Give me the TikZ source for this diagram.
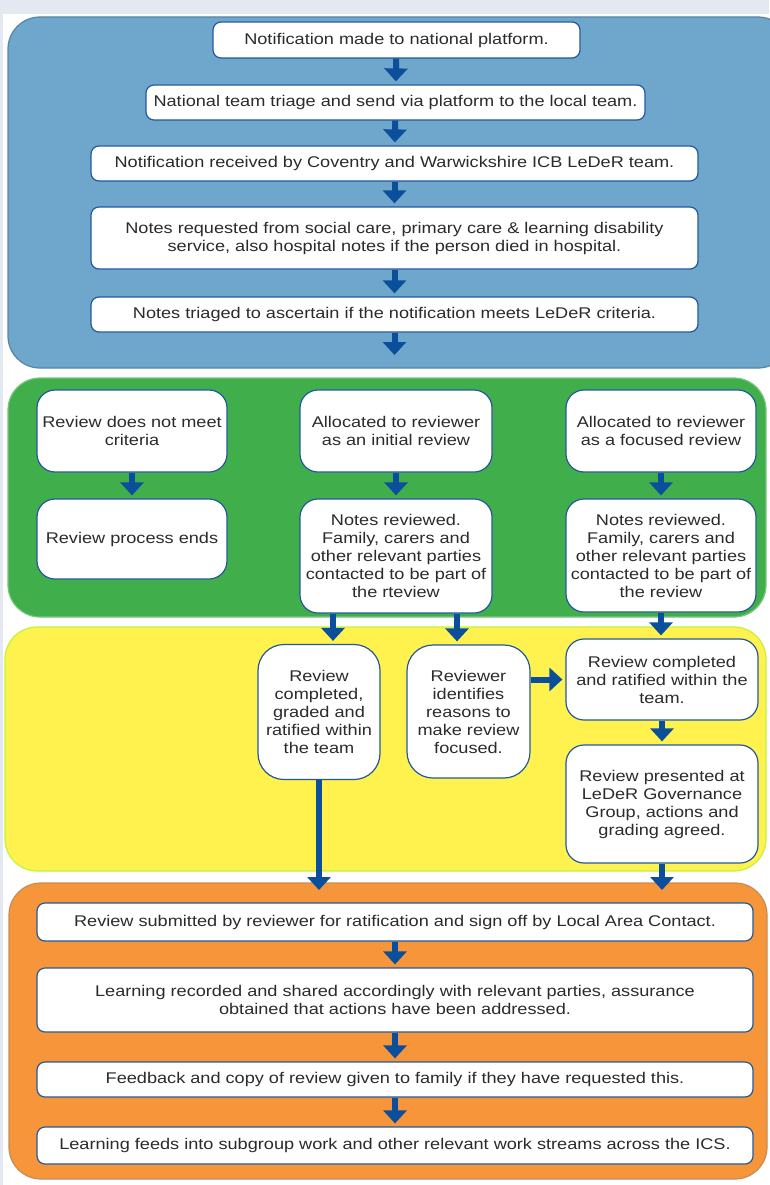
\documentclass[tikz,border=0pt]{standalone}
\usepackage{fontspec}
\setmainfont{Liberation Sans}[FakeStretch=1.17]
\usetikzlibrary{arrows.meta}

\definecolor{pageband}{HTML}{E4E8F1}
\definecolor{bluepanel}{HTML}{6EA6CC}
\definecolor{greenpanel}{HTML}{40AE4A}
\definecolor{yellowpanel}{HTML}{FFF24F}
\definecolor{orangepanel}{HTML}{F7953A}
\definecolor{edgeblue}{HTML}{23599C}
\definecolor{arrowblue}{HTML}{0B4F9C}
\definecolor{inkgray}{HTML}{2B2B2B}

\begin{document}
\begin{tikzpicture}[x=1pt, y=1pt,
        panel/.style={line width=1.2pt, rounded corners=32pt},
        box/.style={draw=edgeblue, fill=white, line width=1.2pt, rounded corners=8pt,
          align=center, inner sep=0pt, text=inkgray, font=\fontsize{15.5}{18}\selectfont},
        roundbox/.style={box, rounded corners=18pt},
        pillbox/.style={box, rounded corners=26pt},
        flow/.style={draw=arrowblue, line width=6pt,
          -{Triangle[width=23pt,length=13pt]}, shorten >=3pt}]
        \useasboundingbox (0,0) rectangle (769,-1185);
        \fill[white] (0,0) rectangle (769,-1185);
        \fill[pageband] (0,0) rectangle (769,-14);
        \fill[pageband] (0,0) rectangle (3,-1185);

        % coloured bands
        \filldraw[panel, fill=bluepanel, draw=bluepanel!80!black] (8,-17) rectangle (790,-368);
        \filldraw[panel, fill=greenpanel, draw=greenpanel!70!white] (8,-378) rectangle (766,-617);
        \filldraw[panel, fill=yellowpanel, draw=yellowpanel!75!green] (5,-627) rectangle (766,-871);
        \filldraw[panel, fill=orangepanel, draw=orangepanel!60!gray] (9,-883) rectangle (767,-1179);

        % notification stage
        \node[box, minimum width=367pt, minimum height=36pt] at (396.5,-40) (notify) {Notification made to national platform.};
        \node[box, minimum width=499pt, minimum height=35pt] at (395.5,-102.5) (national) {National team triage and send via platform to the local team.};
        \node[box, minimum width=607pt, minimum height=35pt] at (394.5,-163.5) (received) {Notification received by Coventry and Warwickshire ICB LeDeR team.};
        \node[box, minimum width=607pt, minimum height=62pt] at (394.5,-238) (notes) {Notes requested from social care, primary care \& learning disability\\service, also hospital notes if the person died in hospital.};
        \node[box, minimum width=607pt, minimum height=35pt] at (394.5,-314.5) (triaged) {Notes triaged to ascertain if the notification meets LeDeR criteria.};
        \coordinate (triageout) at (394.5,-358);

        % allocation stage
        \node[roundbox, minimum width=190pt, minimum height=82pt] at (132,-431) (notmet) {Review does not meet\\criteria};
        \node[roundbox, minimum width=190pt, minimum height=80pt] at (132,-539) (ends) {Review process ends};
        \node[roundbox, minimum width=192pt, minimum height=82pt] at (396,-431) (initial) {Allocated to reviewer\\as an initial review};
        \node[roundbox, minimum width=192pt, minimum height=114pt] at (396,-556) (initnotes) {Notes reviewed.\\Family, carers and\\other relevant parties\\contacted to be part of\\the rteview};
        \node[roundbox, minimum width=190pt, minimum height=82pt] at (661,-431) (focused) {Allocated to reviewer\\as a focused review};
        \node[roundbox, minimum width=190pt, minimum height=113pt] at (661,-555.5) (focnotes) {Notes reviewed.\\Family, carers and\\other relevant parties\\contacted to be part of\\the review};

        % review stage
        \node[pillbox, minimum width=122pt, minimum height=135pt] at (319,-712) (graded) {Review\\completed,\\graded and\\ratified within\\the team};
        \node[pillbox, minimum width=123pt, minimum height=133pt] at (468.5,-711.5) (reasons) {Reviewer\\identifies\\reasons to\\make review\\focused.};
        \node[roundbox, minimum width=192pt, minimum height=81pt] at (662,-679.5) (ratified) {Review completed\\and ratified within the\\team.};
        \node[roundbox, minimum width=192pt, minimum height=118pt] at (662,-804) (governance) {Review presented at\\LeDeR Governance\\Group, actions and\\grading agreed.};
        \coordinate (gradedout) at (319,-890);
        \coordinate (govout) at (662,-890);

        % learning stage
        \node[box, minimum width=716pt, minimum height=38pt] at (395,-922) (submitted) {Review submitted by reviewer for ratification and sign off by Local Area Contact.};
        \node[box, minimum width=716pt, minimum height=64pt] at (395,-1000) (learning) {Learning recorded and shared accordingly with relevant parties, assurance\\obtained that actions have been addressed.};
        \node[box, minimum width=716pt, minimum height=35pt] at (395,-1079.5) (feedback) {Feedback and copy of review given to family if they have requested this.};
        \node[box, minimum width=716pt, minimum height=37pt] at (395,-1145.5) (feeds) {Learning feeds into subgroup work and other relevant work streams across the ICS.};

        \draw[flow] (notify) -- (national);
        \draw[flow] (national) -- (received);
        \draw[flow] (received) -- (notes);
        \draw[flow] (notes) -- (triaged);
        \draw[flow] (triaged) -- (triageout);

        \draw[flow] (notmet) -- (ends);
        \draw[flow] (initial) -- (initnotes);
        \draw[flow] (focused) -- (focnotes);

        \draw[flow] ([xshift=-63pt]initnotes.south) -- ([xshift=14pt]graded.north);
        \draw[flow] ([xshift=61pt]initnotes.south) -- ([xshift=-11.5pt]reasons.north);
        \draw[flow] (focnotes.south) -- (focnotes.south |- ratified.north);
        \draw[flow] (reasons.east |- ratified.west) -- (ratified.west);
        \draw[flow] (ratified) -- (governance);
        \draw[flow, shorten >=0pt] (graded) -- (gradedout);
        \draw[flow, shorten >=0pt] (governance) -- (govout);

        \draw[flow] (submitted) -- (learning);
        \draw[flow] (learning) -- (feedback);
        \draw[flow] (feedback) -- (feeds);
      \end{tikzpicture}
\end{document}
